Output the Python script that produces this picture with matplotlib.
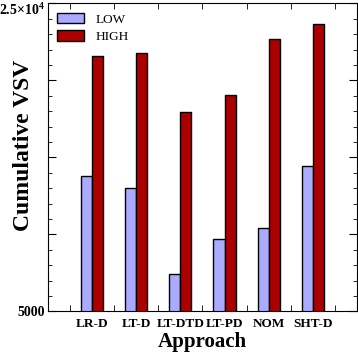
import numpy as np
import matplotlib
matplotlib.use('Agg')
import matplotlib.pyplot as plt
from matplotlib.ticker import MultipleLocator, FixedLocator, FuncFormatter

plt.rcParams['font.family'] = ['Liberation Serif', 'DejaVu Serif']
plt.rcParams['mathtext.fontset'] = 'custom'
plt.rcParams['mathtext.rm'] = 'Liberation Serif:bold'
plt.rcParams['mathtext.bf'] = 'Liberation Serif:bold'

approaches = ['LR-D', 'LT-D', 'LT-DTD', 'LT-PD', 'NOM', 'SHT-D']
low_vsv = [13790, 12990, 7400, 9680, 10390, 14460]
high_vsv = [21580, 21750, 17940, 19050, 22660, 23640]
y_min, y_max = 5000, 25000

fig = plt.figure(figsize=(3.58, 3.52), dpi=100)
ax = fig.add_axes([0.134, 0.1156, 0.863, 0.875])

x = np.arange(len(approaches))
w = 0.25
ax.bar(x - w / 2, low_vsv, w, color='#aaaaff', edgecolor='black', linewidth=1,
       label='LOW')
ax.bar(x + w / 2, high_vsv, w, color='#aa0000', edgecolor='black', linewidth=1,
       label='HIGH')

ax.set_xlim(-1, 6)
ax.set_ylim(y_min, y_max)


def ylab(v, pos):
    # only the bottom end gets a tick label, top one is drawn by hand below
    if v == y_min:
        return '5000'
    return ''


ax.yaxis.set_major_locator(MultipleLocator(5000))
ax.yaxis.set_minor_locator(MultipleLocator(1000))
ax.yaxis.set_major_formatter(FuncFormatter(ylab))
for lab in ax.get_yticklabels():
    lab.set_fontweight('bold')
ax.text(-0.01, 1.005, r'2.5$\times$10$^4$', transform=ax.transAxes,
        ha='right', va='top', fontsize=10, fontweight='bold')

# x ticks: marks between groups, labels under groups
ax.xaxis.set_major_locator(FixedLocator(x))
ax.xaxis.set_minor_locator(FixedLocator(np.arange(-0.5, 6, 1)))
ax.set_xticklabels(approaches, fontweight='bold', fontsize=9.5)
ax.tick_params(axis='x', which='major', length=0, pad=5)
ax.tick_params(axis='x', which='minor', direction='in', length=4, top=True)
ax.tick_params(axis='y', which='major', direction='in', length=6, right=True,
               labelsize=10, pad=2)
ax.tick_params(axis='y', which='minor', direction='in', length=3, right=True)

ax.set_xlabel('Approach', fontsize=15, fontweight='bold')
ax.xaxis.set_label_coords(0.5, -0.1, transform=ax.transAxes)
ax.xaxis.label.set_verticalalignment('center')
ax.set_ylabel('Cumulative VSV', fontsize=17, fontweight='bold')
ax.yaxis.set_label_coords(-0.08, 0.54, transform=ax.transAxes)
ax.yaxis.label.set_verticalalignment('center')

ax.legend(loc='upper left', frameon=False, fontsize=9.5, handlelength=2.0,
          handleheight=0.9, borderaxespad=0.3, labelspacing=0.35,
          handletextpad=0.9)

fig.savefig('out.png', dpi=100)
